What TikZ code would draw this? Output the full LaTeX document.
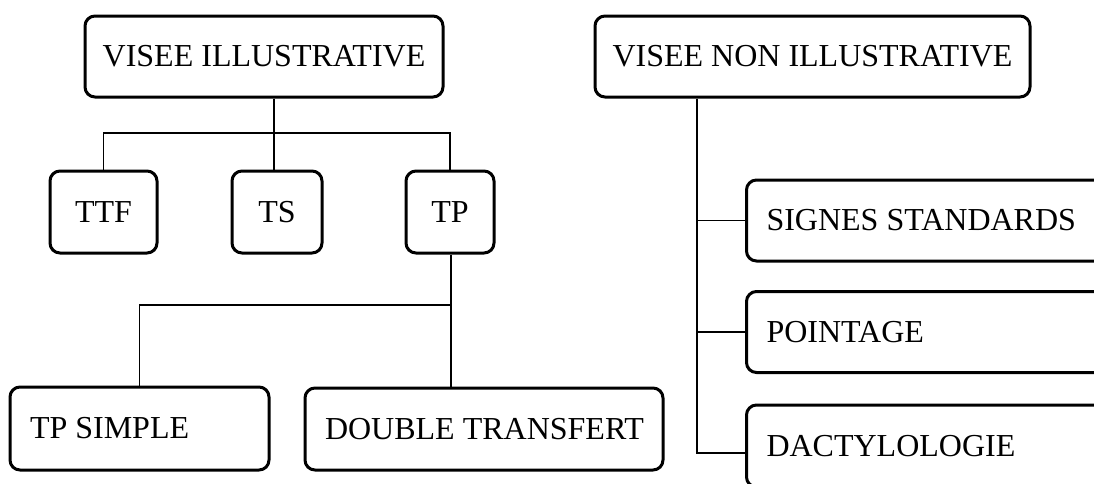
\documentclass[tikz,border=0pt]{standalone}
\usepackage{fontspec}
\setmainfont{Liberation Serif}
\usetikzlibrary{positioning}

\begin{document}
\begin{tikzpicture}[x=1pt, y=-1pt,
    catbox/.style={draw, line width=3pt, rounded corners=10pt, inner sep=0pt,
      font=\fontsize{32}{40}\selectfont},
    leafbox/.style={catbox, inner xsep=20pt, inner ysep=0pt, align=flush left},
    link/.style={line width=1.8pt}]
      \clip (0,0) rectangle (1094,483);
      % top level
      \node [catbox, minimum width=358pt, minimum height=81pt] (vi) at (264,56.5) {VISEE ILLUSTRATIVE};
      \node [catbox, minimum width=435pt, minimum height=81pt] (vni) at (812.5,56.5) {VISEE NON ILLUSTRATIVE};
      % illustrative branch
      \node [catbox, minimum width=107pt, minimum height=82pt] (ttf) at (103.5,212) {TTF};
      \node [catbox, minimum width=90pt, minimum height=82pt] (ts) at (277,212) {TS};
      \node [catbox, minimum width=88pt, minimum height=82pt] (tp) at (450,212) {TP};
      \node [leafbox, text width=219pt, minimum height=83pt] (tps) at (139.5,428.5) {\mbox{TP SIMPLE}};
      \node [leafbox, text width=318pt, minimum height=82pt] (dt) at (484,429) {\mbox{DOUBLE TRANSFERT}};
      % non illustrative branch
      \node [leafbox, text width=330pt, minimum height=81pt, anchor=west] (sig) at (745,220.5) {\mbox{SIGNES STANDARDS}};
      \node [leafbox, text width=330pt, minimum height=81pt, anchor=west] (poi) at (745,332) {\mbox{POINTAGE}};
      \node [leafbox, text width=330pt, minimum height=82pt, anchor=west] (dac) at (745,446) {\mbox{DACTYLOLOGIE}};
      % connectors
      \coordinate (vifork) at (274,133);
      \coordinate (tpfork) at (451,305);
      \coordinate (vnitrunk) at (697,0);
      \draw[link] (vi.south -| vifork) -- (vifork);
      \draw[link] (ttf.north) |- (vifork) -| (tp.north);
      \draw[link] (vifork) -- (vifork |- ts.north);
      \draw[link] (tp.south -| tpfork) -- (tpfork) -- (tpfork |- dt.north);
      \draw[link] (tpfork) -| (tps.north);
      \draw[link] (vni.south -| vnitrunk) |- ([yshift=-7pt]dac.west);
      \draw[link] (sig.west) -- (sig.west -| vnitrunk);
      \draw[link] (poi.west) -- (poi.west -| vnitrunk);
    \end{tikzpicture}
\end{document}
